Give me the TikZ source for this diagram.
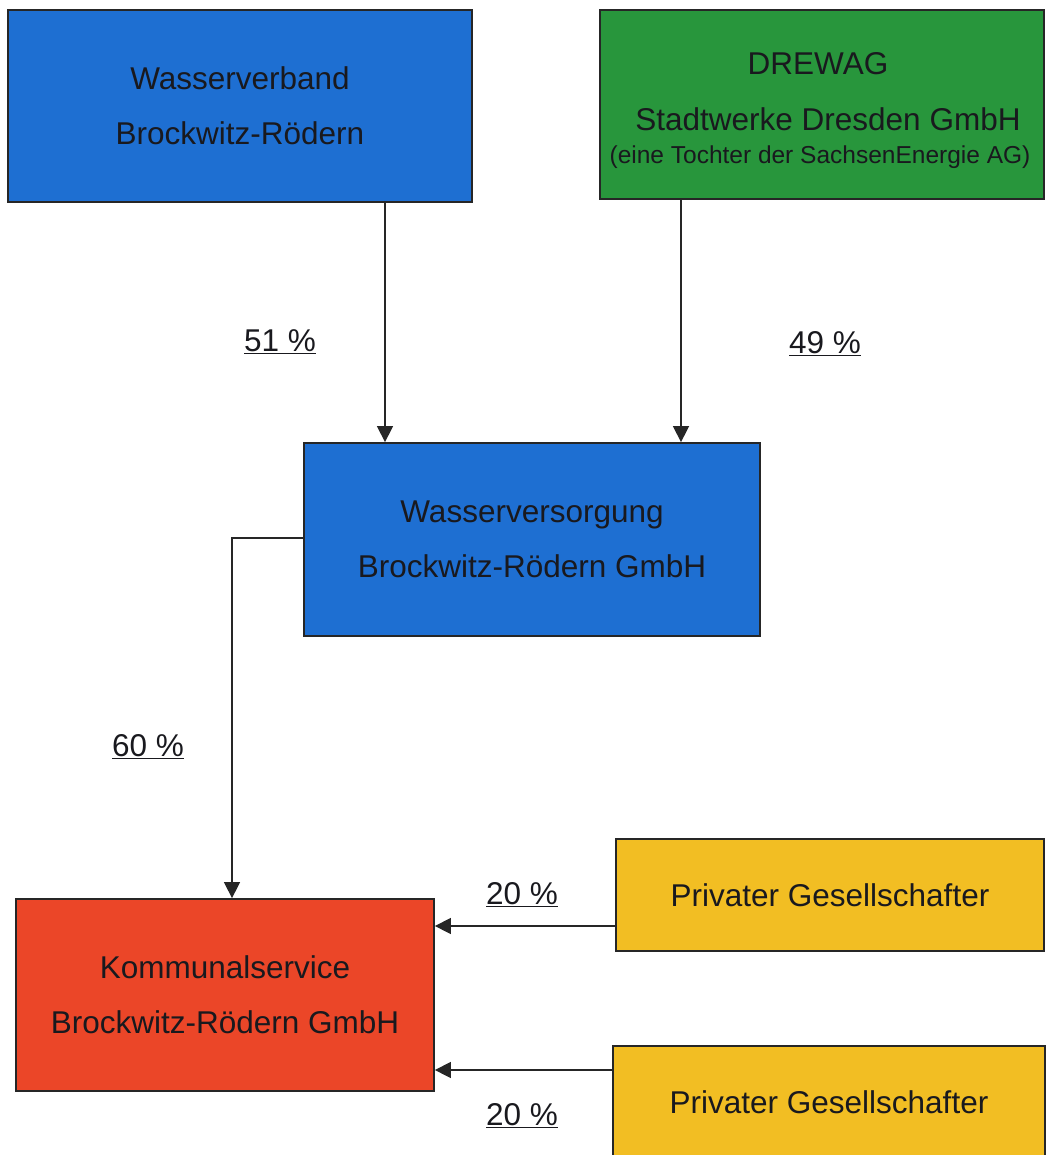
\documentclass[tikz,border=0pt]{standalone}
\usepackage{fontspec}
\setmainfont{Liberation Sans}
\usetikzlibrary{arrows.meta}
\definecolor{cblue}{RGB}{30,111,210}
\definecolor{cgreen}{RGB}{40,150,60}
\definecolor{cred}{RGB}{235,70,40}
\definecolor{cyellow}{RGB}{242,190,35}
\definecolor{ctext}{RGB}{25,25,30}
\tikzset{
  box/.style={draw=black!85, line width=1.8pt, rectangle, inner sep=0pt, text=ctext, align=center,
     font=\fontsize{31.5}{55}\selectfont},
  conn/.style={draw=black!85, line width=1.5pt, -{Triangle[width=16pt,length=16pt]}},
  pct/.style={anchor=base, text=ctext, font=\fontsize{31.5}{37}\selectfont, inner sep=0pt}
}
\begin{document}
\begin{tikzpicture}[x=1pt,y=-1pt]
\useasboundingbox (0,0) rectangle (1046,1155);
\fill[white] (0,0) rectangle (1046,1155);
% boxes
\node[box, fill=cblue, minimum width=464pt, minimum height=192pt] (wv) at (240,106)
  {Wasserverband\\Brockwitz-Rödern};
\node[box, fill=cgreen, minimum width=444pt, minimum height=189pt] (dw) at (822,104.5) {};
\node[text=ctext, align=center, inner sep=0pt, font=\fontsize{31.5}{55}\selectfont, anchor=base] (dw1) at (818,75) {DREWAG};
\node[text=ctext, align=center, inner sep=0pt, font=\fontsize{31.5}{55}\selectfont, anchor=base] (dw2) at (828,131) {Stadtwerke Dresden GmbH};
\node[text=ctext, align=center, inner sep=0pt, font=\fontsize{24.5}{30}\selectfont, anchor=base] (dw3) at (820,164) {(eine Tochter der SachsenEnergie AG)};
\node[box, fill=cblue, minimum width=456pt, minimum height=193pt] (wvs) at (532,539.5)
  {Wasserversorgung\\Brockwitz-Rödern GmbH};
\node[box, fill=cred, minimum width=418pt, minimum height=192pt] (ks) at (225,995)
  {Kommunalservice\\Brockwitz-Rödern GmbH};
\node[box, fill=cyellow, minimum width=428pt, minimum height=112pt] (p1) at (830,895)
  {Privater Gesellschafter};
\node[box, fill=cyellow, minimum width=432pt, minimum height=112pt] (p2) at (829,1102)
  {Privater Gesellschafter};
% connectors
\coordinate (x1) at (385,0);
\coordinate (x2) at (681,0);
\coordinate (x3) at (232,538);
\coordinate (y1) at (0,926);
\coordinate (y2) at (0,1070);
\draw[conn] (x1 |- wv.south) -- (x1 |- wvs.north);
\draw[conn] (x2 |- dw.south) -- (x2 |- wvs.north);
\draw[conn] (wvs.west |- x3) -- (x3) -- (x3 |- ks.north);
\draw[conn] (p1.west |- y1) -- (ks.east |- y1);
\draw[conn] (p2.west |- y2) -- (ks.east |- y2);
% labels
\node[pct] (l51) at (280,351) {\underline{51 \%}};
\node[pct] (l49) at (825,353) {\underline{49 \%}};
\node[pct] (l60) at (148,756) {\underline{60 \%}};
\node[pct] (l20a) at (522,904) {\underline{20 \%}};
\node[pct] (l20b) at (522,1125) {\underline{20 \%}};
\end{tikzpicture}
\end{document}
